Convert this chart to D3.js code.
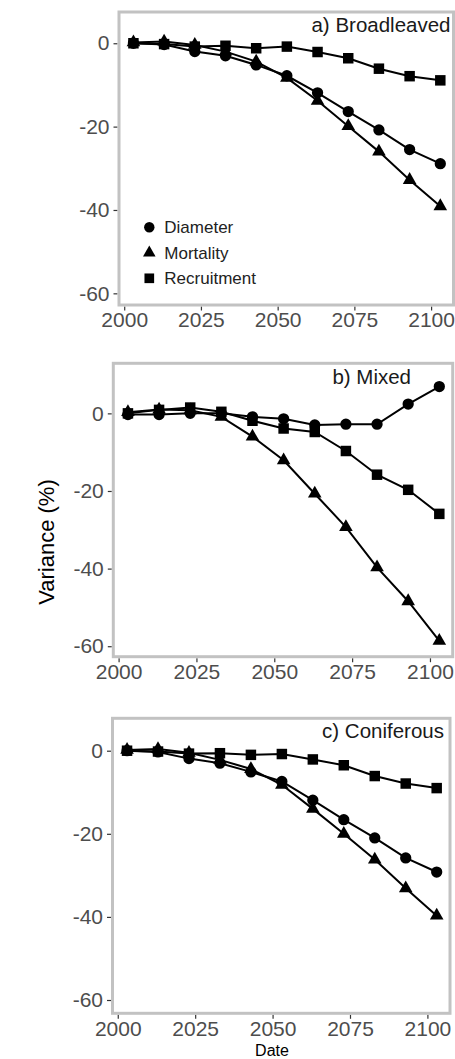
<!DOCTYPE html>
<html>
<head>
<meta charset="utf-8">
<script src="https://cdn.jsdelivr.net/npm/d3@7"></script>
<style>
  body { margin: 0; background: #fff; }
  text { font-family: "Liberation Sans", Arial, sans-serif; }
</style>
</head>
<body>
<div class="canvas"></div>
<script>
// Data (years = decade points)
var years = [2003, 2013, 2023, 2033, 2043, 2053, 2063, 2073, 2083, 2093, 2103];
var xTicks = [2000, 2025, 2050, 2075, 2100];
var yTicks = [0, -20, -40, -60];
var seriesNames = ['Diameter', 'Mortality', 'Recruitment'];
var panelLabels = ['a) Broadleaved', 'b) Mixed', 'c) Coniferous'];

var broadDiameter = [0, -0.3, -2.0, -3.0, -5.2, -7.8, -11.9, -16.4, -20.8, -25.5, -28.9];
var broadMortality = [0.2, 0.4, -0.4, -2.0, -4.4, -8.3, -13.8, -19.9, -26.0, -32.8, -39.1];
var broadRecruitment = [0, -0.2, -0.8, -0.6, -1.2, -0.8, -2.1, -3.6, -6.1, -7.9, -8.9];

var mixedDiameter = [-0.3, -0.3, 0, 0, -0.9, -1.4, -3.0, -2.8, -2.8, 2.4, 6.9];
var mixedMortality = [0.3, 1.0, 0.8, -0.9, -6.0, -12.1, -20.7, -29.3, -39.7, -48.4, -58.6];
var mixedRecruitment = [0, 0.9, 1.5, 0.4, -1.9, -3.9, -4.8, -9.7, -15.8, -19.7, -25.9];

var conifDiameter = [0, -0.3, -1.9, -3.0, -5.1, -7.4, -11.9, -16.6, -21.0, -25.8, -29.2];
var conifMortality = [0.2, 0.4, -0.5, -2.2, -4.4, -8.2, -14.0, -20.0, -26.2, -33.1, -39.7];
var conifRecruitment = [0, -0.2, -0.7, -0.6, -1.0, -0.8, -2.1, -3.5, -6.1, -7.9, -9.0];

var panelSeries = [
  [broadDiameter, broadMortality, broadRecruitment],
  [mixedDiameter, mixedMortality, mixedRecruitment],
  [conifDiameter, conifMortality, conifRecruitment]
];

// Layout of the three stacked panels
var width = 455, height = 1059;
var panels = [
  { left: 119, right: 453.5, top: 12, bottom: 305, yDomain: [-62.8, 7.5], labelX: 450.5, labelY: 31.5 },
  { left: 113.3, right: 452.7, top: 363.3, bottom: 656.7, yDomain: [-62.7, 12.9], labelX: 411, labelY: 384.3 },
  { left: 112.5, right: 450, top: 718.3, bottom: 1013.3, yDomain: [-63.2, 7.8], labelX: 444, labelY: 738.3 }
];
var xDomain = [1998.3, 2107.3];

var symbolTypes = [d3.symbolCircle, d3.symbolTriangle, d3.symbolSquare];
var symbolSizes = [100, 80, 110];

var svg = d3.select('.canvas').append('svg')
  .attr('width', width).attr('height', height)
  .style('display', 'block');

svg.append('rect').attr('width', width).attr('height', height).attr('fill', '#fff');

panels.forEach(function (p, i) {
  var x = d3.scaleLinear().domain(xDomain).range([p.left, p.right]);
  var y = d3.scaleLinear().domain(p.yDomain).range([p.bottom, p.top]);

  var g = svg.append('g');

  // Axes (ticks outside the frame, no domain line)
  var yAxisGroup = g.append('g').attr('transform', 'translate(' + (p.left - 1.5) + ',0)')
    .call(d3.axisLeft(y).tickValues(yTicks).tickSize(4).tickPadding(4).tickFormat(function (d) { return String(d); }));
  var xAxisGroup = g.append('g').attr('transform', 'translate(0,' + (p.bottom + 1.5) + ')')
    .call(d3.axisBottom(x).tickValues(xTicks).tickSize(4).tickPadding(2).tickFormat(function (d) { return String(d); }));

  [yAxisGroup, xAxisGroup].forEach(function (ax) {
    ax.select('.domain').remove();
    ax.selectAll('line').attr('stroke', '#333').attr('stroke-width', 1.2);
    ax.selectAll('text').attr('fill', '#4d4d4d').style('font-size', '21px')
      .style('font-family', '"Liberation Sans", Arial, sans-serif');
  });

  // Frame
  g.append('rect')
    .attr('x', p.left).attr('y', p.top)
    .attr('width', p.right - p.left).attr('height', p.bottom - p.top)
    .attr('fill', 'none').attr('stroke', '#c2c2c2').attr('stroke-width', 3);

  var line = d3.line()
    .x(function (d, j) { return x(years[j]); })
    .y(function (d) { return y(d); });

  panelSeries[i].forEach(function (vals, s) {
    g.append('path').datum(vals)
      .attr('d', line)
      .attr('fill', 'none').attr('stroke', '#000').attr('stroke-width', 2);

    g.selectAll('.pt' + s).data(vals).enter().append('path')
      .attr('class', 'pt' + s)
      .attr('d', d3.symbol().type(symbolTypes[s]).size(symbolSizes[s]))
      .attr('transform', function (d, j) { return 'translate(' + x(years[j]) + ',' + y(d) + ')'; })
      .attr('fill', '#000');
  });

  // Panel label
  g.append('text')
    .attr('x', p.labelX).attr('y', p.labelY)
    .attr('text-anchor', 'end')
    .style('font-size', '20.5px').attr('fill', '#1a1a1a')
    .text(panelLabels[i]);
});

// Legend inside panel a
var legend = svg.append('g').attr('transform', 'translate(149.3,227.3)');
seriesNames.forEach(function (name, s) {
  var row = legend.append('g').attr('transform', 'translate(0,' + (s * 25.5) + ')');
  row.append('path')
    .attr('d', d3.symbol().type(symbolTypes[s]).size(symbolSizes[s] * 0.85))
    .attr('fill', '#000');
  row.append('text')
    .attr('x', 15).attr('y', 6)
    .style('font-size', '17px').attr('fill', '#222')
    .text(name);
});

// Axis titles
svg.append('text')
  .attr('transform', 'translate(54,542) rotate(-90)')
  .attr('text-anchor', 'middle')
  .style('font-size', '22px').attr('fill', '#000')
  .text('Variance (%)');

svg.append('text')
  .attr('x', 272).attr('y', 1055.5)
  .attr('text-anchor', 'middle')
  .style('font-size', '16px').attr('fill', '#000')
  .text('Date');
</script>
</body>
</html>
